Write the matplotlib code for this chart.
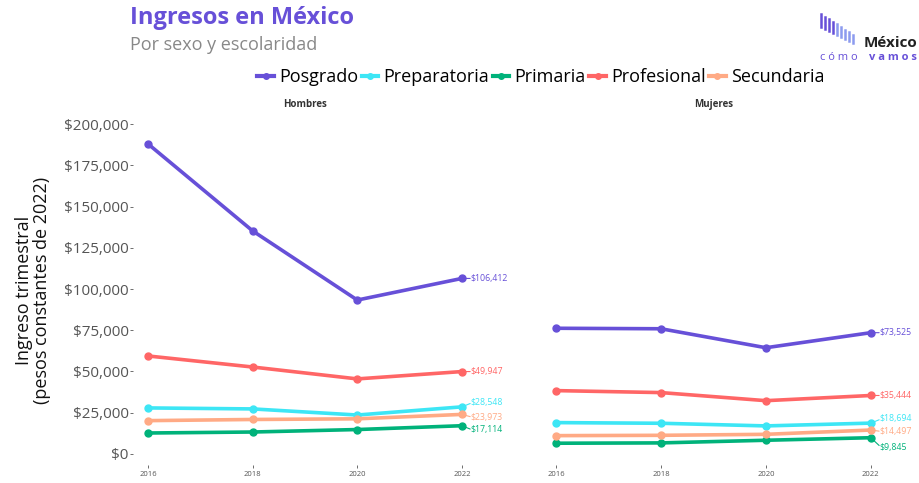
import numpy as np
import matplotlib.pyplot as plt
from matplotlib.lines import Line2D
from matplotlib.ticker import FuncFormatter

plt.rcParams['font.family'] = ['Open Sans', 'DejaVu Sans']

years = [2016, 2018, 2020, 2022]
niveles = ['Posgrado', 'Preparatoria', 'Primaria', 'Profesional', 'Secundaria']
colores = ['#6750D8', '#3DE6F5', '#00B27A', '#FF6666', '#FFAA85']

hombres = {
    'Posgrado': [187900, 135200, 93300, 106412],
    'Preparatoria': [27900, 27300, 23600, 28548],
    'Primaria': [12700, 13300, 14800, 17114],
    'Profesional': [59400, 52700, 45500, 49947],
    'Secundaria': [20200, 20900, 21300, 23973],
}
mujeres = {
    'Posgrado': [76200, 75900, 64400, 73525],
    'Preparatoria': [19000, 18600, 17000, 18694],
    'Primaria': [6500, 6700, 8300, 9845],
    'Profesional': [38400, 37200, 32300, 35444],
    'Secundaria': [11100, 11300, 11900, 14497],
}
paneles = ['Hombres', 'Mujeres']

W, H = 919, 483
fig = plt.figure(figsize=(W / 100, H / 100), dpi=100)

# pixel boxes of the two facets
cajas = [(133, 477), (541, 886)]
top_px, bot_px = 115, 465
# label offsets in points (dx, dy) per series, per panel
offsets = [
    {'Posgrado': (6, 0), 'Preparatoria': (6, 3), 'Primaria': (6, -3),
     'Profesional': (6, 0), 'Secundaria': (6, -2)},
    {'Posgrado': (6, 0), 'Preparatoria': (6, 3), 'Primaria': (6, -7),
     'Profesional': (6, 0), 'Secundaria': (6, -1)},
]

for i, (datos, nombre) in enumerate(zip([hombres, mujeres], paneles)):
    x0, x1 = cajas[i]
    ax = fig.add_axes([x0 / W, 1 - bot_px / H, (x1 - x0) / W, (bot_px - top_px) / H])
    for nivel, c in zip(niveles, colores):
        vals = datos[nivel]
        ax.plot(years, vals, color=c, lw=2.6, marker='o', ms=5, solid_capstyle='round')
        dx, dy = offsets[i][nivel]
        ax.annotate('${:,.0f}'.format(vals[-1]), xy=(years[-1], vals[-1]),
                    xytext=(dx, dy), textcoords='offset points', fontsize=6.3,
                    color=c, va='center', ha='left')
        ax.annotate('', xy=(years[-1], vals[-1]), xytext=(dx, dy * 0.8),
                    textcoords='offset points',
                    arrowprops=dict(arrowstyle='-', color=c, lw=0.8,
                                    shrinkA=0, shrinkB=0))
    ax.set_xlim(2015.71, 2022.29)
    ax.set_ylim(-6700, 205500)
    ax.set_xticks(years)
    ax.tick_params(axis='x', labelsize=5.5, colors='#555555', length=2, width=0.6, pad=2)
    ax.set_yticks([0, 25000, 50000, 75000, 100000, 125000, 150000, 175000, 200000])
    if i == 0:
        ax.yaxis.set_major_formatter(FuncFormatter(lambda v, p: '${:,.0f}'.format(v)))
        ax.tick_params(axis='y', labelsize=11, colors='#555555', length=2, width=0.6, pad=1)
    else:
        ax.tick_params(axis='y', left=False, labelleft=False)
    for s in ax.spines.values():
        s.set_visible(False)
    ax.set_title(nombre, fontsize=7, fontweight='bold', color='#333333', pad=6)

fig.text(33 / W, 1 - 290 / H, 'Ingreso trimestral\n(pesos constantes de 2022)',
         rotation=90, ha='center', va='center', fontsize=13, color='#111111',
         linespacing=1.0)

fig.text(130 / W, 1 - 18 / H, 'Ingresos en México', fontsize=17, fontweight='bold',
         color='#6750D8', va='center', ha='left')
fig.text(130 / W, 1 - 45 / H, 'Por sexo y escolaridad', fontsize=13, color='#888888',
         va='center', ha='left')

handles = [Line2D([0], [0], color=c, lw=3, marker='o', ms=4) for c in colores]
fig.legend(handles, niveles, loc='center', bbox_to_anchor=(541 / W, 1 - 77 / H), ncol=5,
           frameon=False, fontsize=13, handlelength=0.9, handletextpad=0.3,
           columnspacing=0.2)

# logo
barras_x = np.linspace(821, 853, 9)
for k, bx in enumerate(barras_x):
    ytop = 14 + k * 2.6
    largo = 13 - k * 0.6
    c = '#6750D8' if k < 4 else '#8C9BEF'
    fig.add_artist(Line2D([bx / W, bx / W], [1 - ytop / H, 1 - (ytop + largo) / H],
                          color=c, lw=1.8))
fig.text(917 / W, 1 - 43 / H, 'México', fontsize=11, fontweight='bold', color='#222222',
         va='center', ha='right')
fig.text(820 / W, 1 - 58 / H, 'c ó m o', fontsize=8, color='#6750D8', va='center', ha='left')
fig.text(917 / W, 1 - 58 / H, 'v a m o s', fontsize=8, color='#6750D8', fontweight='bold',
         va='center', ha='right')

fig.savefig('out.png', dpi=100)
